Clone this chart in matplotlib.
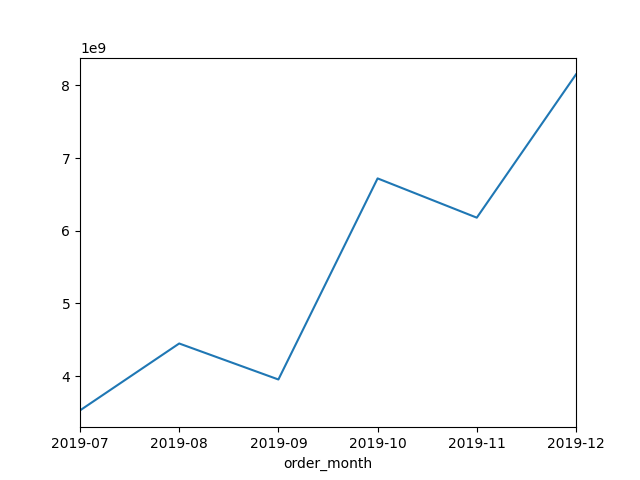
import matplotlib
matplotlib.use("Agg")
import matplotlib.pyplot as plt

months = ["2019-07", "2019-08", "2019-09", "2019-10", "2019-11", "2019-12"]
values = [3.53e9, 4.45e9, 3.955e9, 6.72e9, 6.18e9, 8.15e9]

fig, ax = plt.subplots(figsize=(6.4, 4.8), dpi=100)
x = list(range(len(months)))
ax.plot(x, values, color="#1f77b4")
ax.set_xticks(x)
ax.set_xticklabels(months)
ax.set_xlim(x[0], x[-1])
ax.set_xlabel("order_month")
fig.savefig("out.png")
